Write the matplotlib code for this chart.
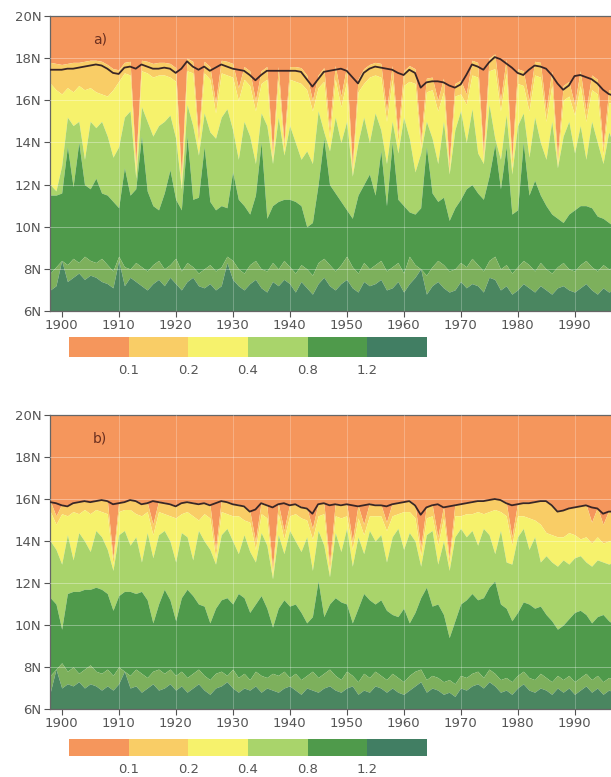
import numpy as np
import matplotlib
matplotlib.use("Agg")
import matplotlib.pyplot as plt
from matplotlib.colors import ListedColormap, BoundaryNorm
from matplotlib.colorbar import ColorbarBase

# ---------------- data ----------------
years = list(range(1898, 1998))
lat_ticks = [6, 8, 10, 12, 14, 16, 18, 20]
lat_labels = ["6N", "8N", "10N", "12N", "14N", "16N", "18N", "20N"]
year_ticks = [1900, 1910, 1920, 1930, 1940, 1950, 1960, 1970, 1980, 1990]
levels = [0.1, 0.2, 0.4, 0.8, 1.2]
level_labels = ["0.1", "0.2", "0.4", "0.8", "1.2"]
colors = ["#F5965C", "#F9CD66", "#F6F26C", "#A9D46B", "#4F9A4B", "#417E63"]

# panel a: latitude of each shading boundary per year
black_a = [17.45,17.45,17.45,17.5,17.5,17.55,17.6,17.65,17.7,17.65,
           17.5,17.3,17.25,17.55,17.6,17.5,17.7,17.6,17.5,17.5,
           17.55,17.5,17.3,17.5,17.85,17.6,17.45,17.6,17.4,17.55,
           17.7,17.6,17.5,17.45,17.4,17.2,16.95,17.2,17.4,17.4,
           17.4,17.4,17.4,17.4,17.35,17.0,16.65,17.0,17.35,17.4,
           17.45,17.5,17.4,17.1,16.8,17.3,17.5,17.6,17.55,17.5,
           17.45,17.3,17.2,17.45,17.3,16.6,16.85,16.9,16.9,16.85,
           16.7,16.6,16.75,17.2,17.7,17.6,17.45,17.8,18.05,17.95,
           17.75,17.55,17.3,17.2,17.45,17.65,17.6,17.5,17.2,16.8,
           16.5,16.7,17.15,17.2,17.1,17.0,16.8,16.5,16.3,16.2]
b01_a = [17.8,17.75,17.7,17.75,17.8,17.8,17.85,17.9,17.9,17.85,
         17.7,17.5,17.45,17.8,17.85,13.0,17.9,17.85,17.75,17.8,
         17.8,17.75,17.55,12.4,18.0,17.85,14.3,17.85,17.6,15.9,
         17.9,17.85,17.75,16.6,17.6,17.4,16.0,17.4,17.6,13.5,
         17.6,14.0,17.6,17.6,17.55,17.2,16.0,17.2,17.55,14.7,
         17.65,16.2,17.6,12.9,17.0,17.5,17.7,17.8,17.75,15.5,
         17.65,14.4,17.4,17.65,17.5,14.1,17.05,17.1,16.0,17.05,
         13.0,16.8,16.95,16.3,17.9,17.8,13.5,18.0,18.2,16.0,
         17.95,13.2,17.5,17.4,16.0,17.85,17.8,15.5,17.4,13.3,
         16.7,16.9,15.8,17.4,15.5,17.2,17.0,13.8,16.5,16.4]
b02_a = [16.8,16.5,16.3,16.6,16.4,16.7,16.5,16.6,16.4,16.3,
         16.2,16.5,16.9,17.3,17.2,12.6,17.4,17.3,17.1,17.2,
         17.2,17.1,16.9,12.0,17.4,17.3,13.8,17.3,17.0,15.4,
         17.3,17.2,17.1,16.0,17.0,16.7,15.5,16.8,17.0,13.1,
         17.0,13.6,17.0,16.9,16.8,16.5,15.5,16.6,16.9,14.2,
         17.0,15.7,16.9,12.5,16.4,16.8,17.1,17.2,17.1,15.0,
         17.0,14.0,16.7,16.9,16.8,13.7,16.4,16.5,15.5,16.4,
         12.6,16.2,16.3,15.8,17.2,17.1,13.1,17.4,17.5,15.5,
         17.3,12.8,16.8,16.7,15.5,17.2,17.1,15.0,16.7,12.9,
         16.0,16.2,15.3,16.7,15.0,16.5,16.3,13.4,15.9,15.8]
b04_a = [12.0,11.7,12.9,15.2,14.8,15.0,13.2,15.0,14.7,15.0,
         14.3,13.3,13.8,15.2,15.5,12.3,15.7,15.0,14.3,14.8,
         15.0,15.3,14.2,11.8,15.8,14.8,13.4,15.4,14.5,14.2,
         15.2,15.6,14.6,13.2,15.0,14.3,13.0,15.4,14.8,13.0,
         15.2,13.4,14.8,14.0,13.2,13.6,13.0,15.5,14.5,13.6,
         15.2,14.0,15.0,12.4,14.0,15.2,14.0,15.4,14.6,13.0,
         15.0,13.5,15.2,14.2,12.6,13.5,15.0,14.2,13.0,15.0,
         12.5,14.6,15.5,14.0,15.6,13.5,13.0,15.8,14.2,13.2,
         15.3,12.5,14.8,15.4,13.3,15.2,14.0,13.2,15.0,12.8,
         14.3,15.0,13.5,14.8,13.2,15.0,14.0,13.0,14.5,13.8]
b08_a = [11.5,11.5,11.6,13.8,11.9,14.0,12.0,11.8,12.3,11.6,
         11.5,11.2,10.9,12.8,11.5,11.8,14.3,11.7,11.0,10.8,
         11.6,12.7,11.3,10.8,14.3,11.3,11.4,13.8,11.2,10.8,
         11.0,10.9,12.6,11.3,11.0,10.6,11.5,14.0,10.4,11.0,
         11.2,11.3,11.3,11.2,11.0,10.0,10.2,12.0,14.2,12.0,
         11.6,11.2,10.8,10.4,11.5,12.0,12.5,11.5,13.6,11.0,
         14.0,11.3,11.0,10.7,10.6,10.9,13.8,11.6,11.2,11.4,
         10.3,10.9,11.3,11.8,12.0,11.6,11.3,12.4,13.9,11.8,
         13.8,10.6,10.8,14.0,11.5,12.2,11.5,11.0,10.6,10.4,
         10.2,10.6,10.8,11.0,11.0,10.9,10.5,10.4,10.2,10.0]
blg_a = [7.8,8.1,8.4,8.2,8.5,8.3,8.6,8.4,8.3,8.5,
         8.2,7.9,8.6,8.1,8.0,8.3,8.1,7.9,8.2,8.4,
         8.0,8.2,8.5,7.9,8.3,8.1,7.8,8.0,8.2,7.9,
         8.1,8.6,8.4,8.0,7.8,8.2,8.4,8.0,7.9,8.3,
         8.0,8.4,8.1,7.8,8.2,8.0,7.7,8.3,8.5,8.2,
         7.9,8.2,8.6,8.1,7.8,8.3,8.0,8.2,8.4,7.9,
         8.1,8.3,7.8,8.6,8.2,8.0,7.7,8.1,8.4,8.2,
         7.9,8.0,8.3,8.1,8.5,8.2,7.9,8.4,8.6,8.0,
         8.2,7.8,8.1,8.4,8.2,7.9,8.3,8.0,7.8,8.1,
         8.3,8.0,7.9,8.2,8.4,8.1,7.9,8.2,8.0,8.1]
b12_a = [7.0,7.2,8.9,7.4,7.6,7.8,7.5,7.7,7.6,7.4,
         7.3,7.1,8.4,7.2,7.6,7.4,7.2,7.0,7.3,7.5,
         7.2,7.6,7.3,7.0,7.4,7.6,7.2,7.1,7.3,7.0,
         7.2,8.3,7.5,7.2,7.0,7.3,7.5,7.1,6.9,7.4,
         7.2,7.5,7.3,6.9,7.4,7.1,6.8,7.3,7.6,7.2,
         7.0,7.3,7.5,7.1,6.9,7.4,7.2,7.3,7.5,7.0,
         7.1,7.4,6.9,7.3,7.6,8.3,6.8,7.2,7.4,7.1,
         6.9,7.0,7.4,7.1,7.3,7.2,6.9,7.6,7.5,7.0,
         7.2,6.8,7.0,7.3,7.1,6.9,7.2,7.0,6.8,7.1,
         7.2,7.0,6.9,7.1,7.3,7.0,6.8,7.1,6.9,7.0]

# panel b
black_b = [15.85,15.8,15.7,15.65,15.8,15.85,15.9,15.85,15.9,15.95,
           15.9,15.75,15.8,15.85,15.95,15.9,15.75,15.8,15.9,15.85,
           15.8,15.75,15.65,15.8,15.85,15.8,15.75,15.8,15.7,15.8,
           15.9,15.85,15.75,15.7,15.65,15.4,15.5,15.8,15.7,15.6,
           15.75,15.8,15.7,15.75,15.6,15.55,15.3,15.75,15.8,15.7,
           15.75,15.7,15.75,15.7,15.65,15.7,15.75,15.7,15.7,15.65,
           15.75,15.8,15.85,15.9,15.7,15.25,15.6,15.7,15.75,15.6,
           15.65,15.7,15.75,15.8,15.85,15.9,15.9,15.95,16.0,15.95,
           15.8,15.7,15.75,15.8,15.8,15.85,15.9,15.9,15.7,15.4,
           15.45,15.55,15.6,15.65,15.7,15.6,15.55,15.3,15.4,15.4]
b01_b = [15.9,15.2,15.75,15.7,15.85,15.9,15.95,15.9,15.95,16.0,
         15.95,13.2,15.85,15.9,16.0,15.95,15.8,15.85,14.8,15.9,
         15.85,15.8,15.7,15.85,15.9,15.85,15.8,15.85,15.75,13.6,
         15.95,15.9,15.8,15.75,15.7,15.45,14.0,15.85,15.75,12.7,
         15.8,14.5,15.75,15.8,15.65,15.6,14.6,15.8,15.85,12.9,
         15.8,15.75,15.8,14.0,15.7,14.8,15.8,15.75,15.75,14.9,
         15.8,15.85,15.9,15.95,15.75,13.7,15.65,15.75,14.2,15.65,
         13.2,15.75,15.8,15.85,15.9,15.95,15.95,16.0,16.05,16.0,
         15.85,14.2,15.8,15.85,15.85,15.9,15.95,15.95,15.75,15.45,
         15.5,15.6,15.65,15.7,15.75,14.9,15.6,14.8,15.45,15.45]
b02_b = [15.4,14.8,15.3,15.2,15.4,15.3,15.5,15.3,15.5,15.4,
         15.3,12.9,15.4,15.5,15.5,15.3,15.2,15.4,14.3,15.4,
         15.3,15.2,15.1,15.3,15.4,15.2,15.0,15.3,15.1,13.2,
         15.4,15.3,15.2,15.2,15.0,14.9,13.6,15.3,15.1,12.4,
         15.3,14.1,15.2,15.3,15.1,15.0,14.1,15.2,15.3,12.5,
         15.2,15.1,15.2,13.6,15.1,14.3,15.2,15.2,15.2,14.5,
         15.2,15.3,15.4,15.4,15.1,13.3,15.1,15.2,13.8,15.1,
         12.9,15.2,15.2,15.3,15.3,15.4,15.3,15.4,15.5,15.4,
         15.2,13.8,15.2,15.2,15.1,15.0,14.8,14.4,14.3,14.2,
         14.2,14.4,14.3,14.1,14.2,13.9,14.2,13.9,14.0,14.1]
b04_b = [14.0,13.6,12.9,14.3,13.1,14.4,14.0,13.5,14.5,14.2,
         13.6,12.6,14.3,14.5,13.8,14.2,13.0,14.4,13.2,14.3,
         14.5,14.0,13.0,14.4,14.2,13.1,14.5,14.0,13.6,12.9,
         14.3,14.6,14.0,13.4,14.3,13.5,13.0,14.4,13.8,12.2,
         14.3,13.4,14.5,14.0,13.5,14.2,12.6,14.5,13.8,12.3,
         14.4,13.5,14.6,12.8,14.2,13.4,14.5,14.0,14.3,13.0,
         14.2,14.6,13.6,14.4,14.0,12.8,14.3,14.5,12.9,14.0,
         12.6,14.2,14.6,14.2,14.5,13.8,14.6,14.3,13.4,14.5,
         13.0,12.9,14.2,14.6,13.6,14.2,13.0,13.3,13.0,12.8,
         13.1,12.9,13.2,13.3,13.0,12.8,13.1,13.0,12.9,13.0]
b08_b = [11.3,11.0,9.8,11.5,11.6,11.6,11.7,11.7,11.8,11.7,
         11.5,10.7,11.4,11.6,11.6,11.5,11.6,11.2,10.1,11.0,
         11.7,11.2,10.2,11.3,11.7,11.4,11.0,10.9,10.1,10.8,
         11.2,11.3,11.0,11.5,11.3,10.6,11.0,11.4,10.8,9.9,
         10.8,11.2,10.9,11.0,10.6,10.1,10.4,12.1,10.4,11.0,
         11.3,11.1,11.0,10.1,10.8,11.5,11.2,11.0,11.2,10.7,
         10.5,10.4,10.8,10.1,10.6,11.3,11.8,10.9,11.0,10.5,
         9.4,10.2,11.0,11.2,11.5,11.2,11.3,11.8,12.1,11.0,
         10.8,10.2,10.6,11.1,11.0,10.8,10.9,10.5,10.2,9.8,
         10.0,10.3,10.6,10.7,10.5,10.1,10.4,10.5,10.2,10.0]
blg_b = [7.6,7.9,8.2,7.8,8.0,7.7,7.9,8.1,7.8,7.7,
         7.9,7.6,8.0,7.8,7.6,7.9,7.7,7.5,7.8,7.9,
         7.7,7.9,7.6,7.8,7.5,7.7,7.9,7.6,7.4,7.7,
         7.8,7.6,7.9,7.5,7.7,7.4,7.8,7.6,7.5,7.7,
         7.6,7.8,7.5,7.7,7.4,7.6,7.8,7.5,7.7,7.9,
         7.6,7.4,7.8,7.6,7.3,7.7,7.5,7.8,7.6,7.4,
         7.7,7.5,7.3,7.6,7.8,7.9,7.4,7.6,7.5,7.3,
         7.4,7.2,7.6,7.5,7.7,7.8,7.5,7.9,7.7,7.4,
         7.5,7.3,7.6,7.8,7.5,7.4,7.7,7.5,7.3,7.6,
         7.4,7.6,7.3,7.5,7.7,7.4,7.6,7.3,7.5,7.4]
b12_b = [6.8,8.5,7.0,7.2,7.1,7.3,7.0,7.2,7.1,6.9,
         7.1,6.9,7.2,7.9,7.0,7.1,6.8,7.0,7.2,6.9,
         7.0,7.2,6.9,7.1,6.8,7.0,7.2,6.9,6.7,7.0,
         7.1,7.3,7.0,6.8,7.0,6.9,7.1,6.8,7.0,6.9,
         6.8,7.0,7.1,6.9,6.7,7.0,6.9,6.8,7.0,7.1,
         6.9,6.8,7.0,7.1,6.7,6.9,6.8,7.1,7.0,6.8,
         7.0,6.8,6.7,6.9,7.1,7.3,6.8,7.0,6.9,6.7,
         6.8,6.6,7.0,6.9,7.1,7.2,7.0,7.3,7.1,6.8,
         6.9,6.7,7.0,7.2,6.9,6.8,7.0,6.9,6.7,7.0,
         6.8,7.0,6.7,6.9,7.1,6.8,7.0,6.7,6.9,6.8]

panels = [
    ("a)", black_a, [b01_a, b02_a, b04_a, b08_a, blg_a, b12_a]),
    ("b)", black_b, [b01_b, b02_b, b04_b, b08_b, blg_b, b12_b]),
]

# ---------------- figure ----------------
W, H = 611, 777
fig = plt.figure(figsize=(W / 100, H / 100), dpi=100)
fam = ["Liberation Sans Narrow", "DejaVu Sans"]
tick_col = "#555555"

def fx(px):
    return px / W

def fy(py):
    return 1 - py / H

ax_boxes = [(50, 16, 611, 311), (50, 415, 611, 709)]
cb_boxes = [(69, 337, 427, 357), (69, 739, 427, 756)]

# colours of the bands below the 0.1 line, top to bottom
band_colors = [colors[1], colors[2], colors[3], colors[4], "#7DB05C", "#4A8660"]

yrs = np.array(years, dtype=float)
for (label, black, bounds), (l, t, r, b), (cl, ct, cr, cbm) in zip(panels, ax_boxes, cb_boxes):
    ax = fig.add_axes([fx(l), fy(b), fx(r - l), (b - t) / H])
    ax.set_xlim(1897.95, 1996.4)
    ax.set_ylim(6, 20)
    upper = np.full_like(yrs, 20.0)
    ax.fill_between(yrs, np.array(bounds[0]), upper, color=colors[0], lw=0)
    prev = np.array(bounds[0])
    for arr, col in zip(bounds[1:], band_colors[:-1]):
        cur = np.minimum(np.array(arr), prev)
        ax.fill_between(yrs, cur, prev, color=col, lw=0)
        prev = cur
    ax.fill_between(yrs, np.full_like(yrs, 6.0), prev, color=band_colors[-1], lw=0)
    # faint grid
    for lt in lat_ticks[1:-1]:
        ax.axhline(lt, color="white", lw=0.7, alpha=0.35, zorder=3)
    for yt in year_ticks[1:]:
        ax.axvline(yt, color="white", lw=0.7, alpha=0.25, zorder=3)
    ax.plot(years, black, color="#3a2626", lw=1.3, zorder=4)
    ax.text(1906.7, 18.9, label, fontsize=10, color="#6b3020", family=fam,
            ha="center", va="center", zorder=5)
    ax.set_yticks(lat_ticks)
    ax.set_yticklabels(lat_labels)
    ax.set_xticks(year_ticks)
    ax.set_xticklabels([str(v) for v in year_ticks])
    ax.tick_params(axis="both", colors=tick_col, labelsize=9.5, length=4, width=0.8,
                   direction="out", pad=2)
    for lab in ax.get_xticklabels() + ax.get_yticklabels():
        lab.set_family(fam)
    ax.spines["right"].set_visible(False)
    for s in ("left", "top", "bottom"):
        ax.spines[s].set_color("#666666")
        ax.spines[s].set_linewidth(0.9)

    # colour bar
    cax = fig.add_axes([fx(cl), fy(cbm), fx(cr - cl), (cbm - ct) / H])
    cmap = ListedColormap(colors)
    bnds = [0.0] + levels + [1.6]
    norm = BoundaryNorm(bnds, cmap.N)
    cbar = ColorbarBase(cax, cmap=cmap, norm=norm, boundaries=bnds,
                        orientation="horizontal", spacing="uniform", ticks=levels)
    cbar.set_ticklabels(level_labels)
    cbar.outline.set_visible(False)
    cax.minorticks_off()
    cax.tick_params(which="both", length=0, labelsize=9.5, colors=tick_col, pad=5)
    for s in cax.spines.values():
        s.set_visible(False)
    for lab in cax.get_xticklabels():
        lab.set_family(fam)

fig.savefig("out.png", dpi=100)
